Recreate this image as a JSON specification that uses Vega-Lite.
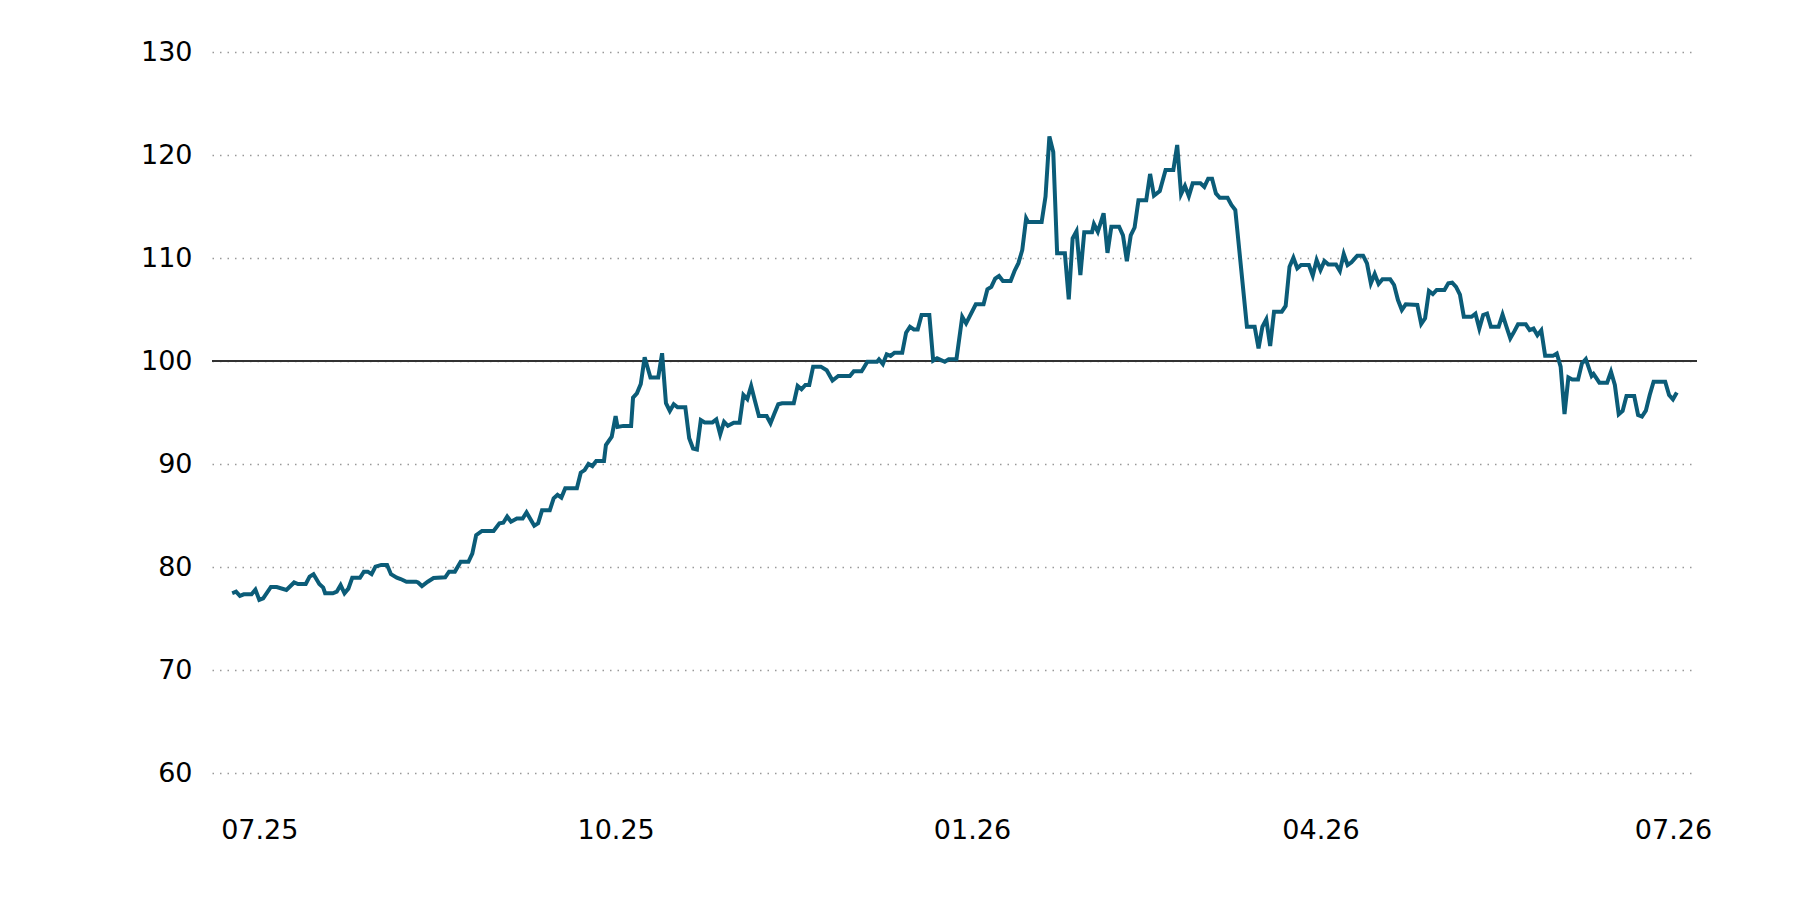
{
  "$schema": "https://vega.github.io/schema/vega-lite/v6.json",
  "width": 1485,
  "height": 721,
  "autosize": "none",
  "padding": {"left": 212, "top": 52, "right": 103, "bottom": 127},
  "background": "white",
  "config": {"view": {"stroke": null}, "font": "DejaVu Sans"},
  "data": {"values": [
    {"d": "2025-06-24T00:00", "v": 77.45},
    {"d": "2025-06-25T00:00", "v": 77.6},
    {"d": "2025-06-26T00:00", "v": 77.2},
    {"d": "2025-06-27T00:00", "v": 77.35},
    {"d": "2025-06-29T00:00", "v": 77.35},
    {"d": "2025-06-30T00:00", "v": 77.8},
    {"d": "2025-07-01T00:00", "v": 76.8},
    {"d": "2025-07-02T00:00", "v": 76.96},
    {"d": "2025-07-04T00:00", "v": 78.06},
    {"d": "2025-07-05T12:00", "v": 78.06},
    {"d": "2025-07-08T00:00", "v": 77.77},
    {"d": "2025-07-10T00:00", "v": 78.5},
    {"d": "2025-07-11T00:00", "v": 78.35},
    {"d": "2025-07-13T00:00", "v": 78.35},
    {"d": "2025-07-14T00:00", "v": 79.06},
    {"d": "2025-07-15T00:00", "v": 79.3},
    {"d": "2025-07-16T12:00", "v": 78.35},
    {"d": "2025-07-17T12:00", "v": 78.0},
    {"d": "2025-07-18T00:00", "v": 77.45},
    {"d": "2025-07-20T00:00", "v": 77.45},
    {"d": "2025-07-21T00:00", "v": 77.6},
    {"d": "2025-07-22T00:00", "v": 78.25},
    {"d": "2025-07-23T00:00", "v": 77.45},
    {"d": "2025-07-24T00:00", "v": 77.9},
    {"d": "2025-07-25T00:00", "v": 78.96},
    {"d": "2025-07-27T00:00", "v": 78.96},
    {"d": "2025-07-28T00:00", "v": 79.55},
    {"d": "2025-07-29T00:00", "v": 79.55},
    {"d": "2025-07-30T00:00", "v": 79.3},
    {"d": "2025-07-31T00:00", "v": 80.03},
    {"d": "2025-08-01T12:00", "v": 80.2},
    {"d": "2025-08-03T00:00", "v": 80.2},
    {"d": "2025-08-04T00:00", "v": 79.3},
    {"d": "2025-08-05T12:00", "v": 78.96},
    {"d": "2025-08-06T12:00", "v": 78.83},
    {"d": "2025-08-08T00:00", "v": 78.57},
    {"d": "2025-08-10T12:00", "v": 78.57},
    {"d": "2025-08-11T00:00", "v": 78.5},
    {"d": "2025-08-12T00:00", "v": 78.15},
    {"d": "2025-08-13T12:00", "v": 78.57},
    {"d": "2025-08-15T00:00", "v": 78.93},
    {"d": "2025-08-18T00:00", "v": 79.0},
    {"d": "2025-08-19T00:00", "v": 79.55},
    {"d": "2025-08-20T12:00", "v": 79.55},
    {"d": "2025-08-22T00:00", "v": 80.5},
    {"d": "2025-08-24T00:00", "v": 80.5},
    {"d": "2025-08-25T00:00", "v": 81.3},
    {"d": "2025-08-26T00:00", "v": 83.1},
    {"d": "2025-08-27T12:00", "v": 83.5},
    {"d": "2025-08-30T12:00", "v": 83.5},
    {"d": "2025-09-01T00:00", "v": 84.24},
    {"d": "2025-09-02T00:00", "v": 84.3},
    {"d": "2025-09-03T00:00", "v": 84.9},
    {"d": "2025-09-04T00:00", "v": 84.4},
    {"d": "2025-09-05T12:00", "v": 84.7},
    {"d": "2025-09-07T00:00", "v": 84.7},
    {"d": "2025-09-08T00:00", "v": 85.3},
    {"d": "2025-09-10T00:00", "v": 84.0},
    {"d": "2025-09-11T00:00", "v": 84.24},
    {"d": "2025-09-12T00:00", "v": 85.5},
    {"d": "2025-09-14T00:00", "v": 85.5},
    {"d": "2025-09-15T00:00", "v": 86.67},
    {"d": "2025-09-16T00:00", "v": 87.0},
    {"d": "2025-09-17T00:00", "v": 86.74},
    {"d": "2025-09-18T00:00", "v": 87.64},
    {"d": "2025-09-21T00:00", "v": 87.64},
    {"d": "2025-09-22T00:00", "v": 89.16},
    {"d": "2025-09-23T00:00", "v": 89.4},
    {"d": "2025-09-24T00:00", "v": 90.0},
    {"d": "2025-09-25T00:00", "v": 89.8},
    {"d": "2025-09-26T00:00", "v": 90.3},
    {"d": "2025-09-28T00:00", "v": 90.3},
    {"d": "2025-09-28T12:00", "v": 91.84},
    {"d": "2025-09-30T00:00", "v": 92.65},
    {"d": "2025-10-01T00:00", "v": 94.66},
    {"d": "2025-10-01T12:00", "v": 93.6},
    {"d": "2025-10-03T00:00", "v": 93.7},
    {"d": "2025-10-05T00:00", "v": 93.7},
    {"d": "2025-10-05T12:00", "v": 96.44},
    {"d": "2025-10-06T12:00", "v": 96.86},
    {"d": "2025-10-07T12:00", "v": 97.77},
    {"d": "2025-10-08T12:00", "v": 100.36},
    {"d": "2025-10-10T00:00", "v": 98.4},
    {"d": "2025-10-12T00:00", "v": 98.4},
    {"d": "2025-10-13T00:00", "v": 100.75},
    {"d": "2025-10-14T00:00", "v": 95.9},
    {"d": "2025-10-15T00:00", "v": 95.15},
    {"d": "2025-10-16T00:00", "v": 95.8},
    {"d": "2025-10-17T00:00", "v": 95.5},
    {"d": "2025-10-19T00:00", "v": 95.5},
    {"d": "2025-10-20T00:00", "v": 92.5},
    {"d": "2025-10-21T00:00", "v": 91.5},
    {"d": "2025-10-22T00:00", "v": 91.4},
    {"d": "2025-10-23T00:00", "v": 94.27},
    {"d": "2025-10-24T00:00", "v": 94.04},
    {"d": "2025-10-26T00:00", "v": 94.04},
    {"d": "2025-10-27T00:00", "v": 94.33},
    {"d": "2025-10-28T00:00", "v": 92.87},
    {"d": "2025-10-29T00:00", "v": 94.1},
    {"d": "2025-10-30T00:00", "v": 93.7},
    {"d": "2025-10-31T12:00", "v": 94.0},
    {"d": "2025-11-02T00:00", "v": 94.0},
    {"d": "2025-11-03T00:00", "v": 96.7},
    {"d": "2025-11-04T00:00", "v": 96.3},
    {"d": "2025-11-05T00:00", "v": 97.57},
    {"d": "2025-11-06T00:00", "v": 96.1},
    {"d": "2025-11-07T00:00", "v": 94.66},
    {"d": "2025-11-09T00:00", "v": 94.66},
    {"d": "2025-11-10T00:00", "v": 93.95},
    {"d": "2025-11-11T00:00", "v": 94.9},
    {"d": "2025-11-12T00:00", "v": 95.8},
    {"d": "2025-11-13T00:00", "v": 95.9},
    {"d": "2025-11-16T00:00", "v": 95.9},
    {"d": "2025-11-17T00:00", "v": 97.57},
    {"d": "2025-11-18T00:00", "v": 97.25},
    {"d": "2025-11-19T00:00", "v": 97.67},
    {"d": "2025-11-20T00:00", "v": 97.67},
    {"d": "2025-11-21T00:00", "v": 99.45},
    {"d": "2025-11-23T00:00", "v": 99.45},
    {"d": "2025-11-24T12:00", "v": 99.1},
    {"d": "2025-11-26T00:00", "v": 98.1},
    {"d": "2025-11-27T12:00", "v": 98.54},
    {"d": "2025-11-30T12:00", "v": 98.54},
    {"d": "2025-12-01T12:00", "v": 99.0},
    {"d": "2025-12-03T12:00", "v": 99.0},
    {"d": "2025-12-04T00:00", "v": 99.3},
    {"d": "2025-12-05T00:00", "v": 99.93},
    {"d": "2025-12-07T12:00", "v": 99.93},
    {"d": "2025-12-08T00:00", "v": 100.16},
    {"d": "2025-12-09T00:00", "v": 99.7},
    {"d": "2025-12-10T00:00", "v": 100.65},
    {"d": "2025-12-11T00:00", "v": 100.5},
    {"d": "2025-12-12T00:00", "v": 100.8},
    {"d": "2025-12-14T00:00", "v": 100.8},
    {"d": "2025-12-15T00:00", "v": 102.75},
    {"d": "2025-12-16T00:00", "v": 103.33},
    {"d": "2025-12-17T00:00", "v": 103.07},
    {"d": "2025-12-18T00:00", "v": 103.07},
    {"d": "2025-12-19T00:00", "v": 104.47},
    {"d": "2025-12-21T00:00", "v": 104.47},
    {"d": "2025-12-22T00:00", "v": 100.03},
    {"d": "2025-12-23T00:00", "v": 100.26},
    {"d": "2025-12-25T00:00", "v": 99.93},
    {"d": "2025-12-26T00:00", "v": 100.16},
    {"d": "2025-12-28T00:00", "v": 100.16},
    {"d": "2025-12-29T12:00", "v": 104.3},
    {"d": "2025-12-30T12:00", "v": 103.65},
    {"d": "2026-01-02T00:00", "v": 105.5},
    {"d": "2026-01-04T00:00", "v": 105.5},
    {"d": "2026-01-05T00:00", "v": 106.96},
    {"d": "2026-01-06T00:00", "v": 107.2},
    {"d": "2026-01-07T00:00", "v": 108.0},
    {"d": "2026-01-08T00:00", "v": 108.25},
    {"d": "2026-01-09T00:00", "v": 107.77},
    {"d": "2026-01-11T00:00", "v": 107.77},
    {"d": "2026-01-12T00:00", "v": 108.74},
    {"d": "2026-01-13T00:00", "v": 109.5},
    {"d": "2026-01-14T00:00", "v": 110.78},
    {"d": "2026-01-15T00:00", "v": 113.85},
    {"d": "2026-01-15T12:00", "v": 113.5},
    {"d": "2026-01-19T00:00", "v": 113.5},
    {"d": "2026-01-20T00:00", "v": 115.96},
    {"d": "2026-01-21T00:00", "v": 121.8},
    {"d": "2026-01-22T00:00", "v": 120.3},
    {"d": "2026-01-23T00:00", "v": 110.45},
    {"d": "2026-01-25T00:00", "v": 110.45},
    {"d": "2026-01-26T00:00", "v": 105.98},
    {"d": "2026-01-27T00:00", "v": 111.9},
    {"d": "2026-01-28T00:00", "v": 112.6},
    {"d": "2026-01-29T00:00", "v": 108.35},
    {"d": "2026-01-30T00:00", "v": 112.5},
    {"d": "2026-02-01T00:00", "v": 112.5},
    {"d": "2026-02-01T12:00", "v": 113.3},
    {"d": "2026-02-02T12:00", "v": 112.55},
    {"d": "2026-02-04T00:00", "v": 114.34},
    {"d": "2026-02-05T00:00", "v": 110.5},
    {"d": "2026-02-06T00:00", "v": 113.04},
    {"d": "2026-02-08T00:00", "v": 113.04},
    {"d": "2026-02-09T00:00", "v": 112.2},
    {"d": "2026-02-10T00:00", "v": 109.7},
    {"d": "2026-02-11T00:00", "v": 112.2},
    {"d": "2026-02-12T00:00", "v": 112.96},
    {"d": "2026-02-13T00:00", "v": 115.6},
    {"d": "2026-02-15T00:00", "v": 115.6},
    {"d": "2026-02-16T00:00", "v": 118.16},
    {"d": "2026-02-17T00:00", "v": 116.05},
    {"d": "2026-02-18T12:00", "v": 116.5},
    {"d": "2026-02-20T00:00", "v": 118.54},
    {"d": "2026-02-22T00:00", "v": 118.54},
    {"d": "2026-02-23T00:00", "v": 120.97},
    {"d": "2026-02-24T00:00", "v": 116.2},
    {"d": "2026-02-25T00:00", "v": 117.0},
    {"d": "2026-02-26T00:00", "v": 116.0},
    {"d": "2026-02-27T00:00", "v": 117.25},
    {"d": "2026-03-01T00:00", "v": 117.25},
    {"d": "2026-03-02T00:00", "v": 116.9},
    {"d": "2026-03-03T00:00", "v": 117.7},
    {"d": "2026-03-04T00:00", "v": 117.7},
    {"d": "2026-03-05T00:00", "v": 116.27},
    {"d": "2026-03-06T00:00", "v": 115.85},
    {"d": "2026-03-08T00:00", "v": 115.85},
    {"d": "2026-03-09T00:00", "v": 115.15},
    {"d": "2026-03-10T00:00", "v": 114.66},
    {"d": "2026-03-13T00:00", "v": 103.33},
    {"d": "2026-03-15T00:00", "v": 103.33},
    {"d": "2026-03-16T00:00", "v": 101.23},
    {"d": "2026-03-17T00:00", "v": 103.33},
    {"d": "2026-03-18T00:00", "v": 104.04},
    {"d": "2026-03-19T00:00", "v": 101.45},
    {"d": "2026-03-20T00:00", "v": 104.79},
    {"d": "2026-03-22T00:00", "v": 104.79},
    {"d": "2026-03-23T00:00", "v": 105.34},
    {"d": "2026-03-24T00:00", "v": 109.16},
    {"d": "2026-03-25T00:00", "v": 110.03},
    {"d": "2026-03-26T00:00", "v": 109.0},
    {"d": "2026-03-27T00:00", "v": 109.32},
    {"d": "2026-03-29T00:00", "v": 109.32},
    {"d": "2026-03-30T00:00", "v": 108.28},
    {"d": "2026-03-31T00:00", "v": 109.8},
    {"d": "2026-04-01T00:00", "v": 108.84},
    {"d": "2026-04-02T00:00", "v": 109.7},
    {"d": "2026-04-03T00:00", "v": 109.38},
    {"d": "2026-04-05T00:00", "v": 109.38},
    {"d": "2026-04-06T00:00", "v": 108.74},
    {"d": "2026-04-07T00:00", "v": 110.39},
    {"d": "2026-04-08T00:00", "v": 109.32},
    {"d": "2026-04-09T00:00", "v": 109.58},
    {"d": "2026-04-10T12:00", "v": 110.23},
    {"d": "2026-04-12T00:00", "v": 110.23},
    {"d": "2026-04-13T00:00", "v": 109.48},
    {"d": "2026-04-14T00:00", "v": 107.54},
    {"d": "2026-04-15T00:00", "v": 108.45},
    {"d": "2026-04-16T00:00", "v": 107.48},
    {"d": "2026-04-17T00:00", "v": 107.93},
    {"d": "2026-04-19T00:00", "v": 107.93},
    {"d": "2026-04-20T00:00", "v": 107.38},
    {"d": "2026-04-21T00:00", "v": 105.92},
    {"d": "2026-04-22T00:00", "v": 104.95},
    {"d": "2026-04-23T00:00", "v": 105.5},
    {"d": "2026-04-26T00:00", "v": 105.44},
    {"d": "2026-04-27T00:00", "v": 103.6},
    {"d": "2026-04-28T00:00", "v": 104.15},
    {"d": "2026-04-29T00:00", "v": 106.8},
    {"d": "2026-04-30T00:00", "v": 106.5},
    {"d": "2026-05-01T00:00", "v": 106.9},
    {"d": "2026-05-03T00:00", "v": 106.9},
    {"d": "2026-05-04T00:00", "v": 107.54},
    {"d": "2026-05-05T00:00", "v": 107.6},
    {"d": "2026-05-06T00:00", "v": 107.2},
    {"d": "2026-05-07T00:00", "v": 106.45},
    {"d": "2026-05-08T00:00", "v": 104.3},
    {"d": "2026-05-10T00:00", "v": 104.3},
    {"d": "2026-05-11T00:00", "v": 104.6},
    {"d": "2026-05-12T00:00", "v": 103.15},
    {"d": "2026-05-13T00:00", "v": 104.47},
    {"d": "2026-05-14T00:00", "v": 104.6},
    {"d": "2026-05-15T00:00", "v": 103.33},
    {"d": "2026-05-17T00:00", "v": 103.33},
    {"d": "2026-05-18T00:00", "v": 104.5},
    {"d": "2026-05-19T00:00", "v": 103.33},
    {"d": "2026-05-20T00:00", "v": 102.2},
    {"d": "2026-05-21T00:00", "v": 102.85},
    {"d": "2026-05-22T00:00", "v": 103.56},
    {"d": "2026-05-24T00:00", "v": 103.56},
    {"d": "2026-05-25T00:00", "v": 103.0},
    {"d": "2026-05-26T00:00", "v": 103.15},
    {"d": "2026-05-27T00:00", "v": 102.5},
    {"d": "2026-05-28T00:00", "v": 102.98},
    {"d": "2026-05-29T00:00", "v": 100.5},
    {"d": "2026-05-31T00:00", "v": 100.5},
    {"d": "2026-06-01T00:00", "v": 100.73},
    {"d": "2026-06-02T00:00", "v": 99.45},
    {"d": "2026-06-03T00:00", "v": 94.85},
    {"d": "2026-06-04T00:00", "v": 98.4},
    {"d": "2026-06-05T00:00", "v": 98.2},
    {"d": "2026-06-06T12:00", "v": 98.2},
    {"d": "2026-06-07T12:00", "v": 99.77},
    {"d": "2026-06-08T12:00", "v": 100.19},
    {"d": "2026-06-10T00:00", "v": 98.54},
    {"d": "2026-06-10T12:00", "v": 98.74},
    {"d": "2026-06-12T00:00", "v": 97.9},
    {"d": "2026-06-14T00:00", "v": 97.9},
    {"d": "2026-06-15T00:00", "v": 98.96},
    {"d": "2026-06-16T00:00", "v": 97.67},
    {"d": "2026-06-17T00:00", "v": 94.82},
    {"d": "2026-06-18T00:00", "v": 95.15},
    {"d": "2026-06-19T00:00", "v": 96.6},
    {"d": "2026-06-21T00:00", "v": 96.6},
    {"d": "2026-06-22T00:00", "v": 94.76},
    {"d": "2026-06-23T00:00", "v": 94.6},
    {"d": "2026-06-24T00:00", "v": 95.18},
    {"d": "2026-06-25T00:00", "v": 96.7},
    {"d": "2026-06-26T00:00", "v": 97.99},
    {"d": "2026-06-29T00:00", "v": 97.99},
    {"d": "2026-06-30T00:00", "v": 96.7},
    {"d": "2026-07-01T00:00", "v": 96.28},
    {"d": "2026-07-02T00:00", "v": 96.93}
  ]},
  "layer": [
    {
      "mark": {"type": "rule", "color": "#333333", "strokeWidth": 1.5},
      "encoding": {"y": {"datum": 100, "type": "quantitative"}}
    },
    {
      "mark": {"type": "line", "color": "#0b5c78", "strokeWidth": 4},
      "encoding": {
        "x": {
          "field": "d",
          "type": "temporal",
          "scale": {"domain": [
            {"year": 2025, "month": 6, "date": 18, "hours": 19},
            {"year": 2026, "month": 7, "date": 7, "hours": 5}
          ]},
          "axis": {
            "values": [
              {"year": 2025, "month": 7, "date": 1},
              {"year": 2025, "month": 10, "date": 1},
              {"year": 2026, "month": 1, "date": 1},
              {"year": 2026, "month": 4, "date": 1},
              {"year": 2026, "month": 7, "date": 1}
            ],
            "format": "%m.%y",
            "title": null,
            "grid": false,
            "ticks": false,
            "domain": false,
            "labelPadding": 44,
            "labelFontSize": 27,
            "labelColor": "#000000",
            "labelFlush": false,
            "labelOverlap": false,
            "labelBound": false
          }
        },
        "y": {
          "field": "v",
          "type": "quantitative",
          "scale": {"domain": [60, 130], "nice": false, "zero": false},
          "axis": {
            "values": [60, 70, 80, 90, 100, 110, 120, 130],
            "title": null,
            "grid": true,
            "gridDash": [1.5, 6],
            "gridColor": "#999999",
            "gridWidth": 1.5,
            "ticks": false,
            "domain": false,
            "labelPadding": 20,
            "labelFontSize": 27,
            "labelColor": "#000000"
          }
        }
      }
    }
  ]
}
